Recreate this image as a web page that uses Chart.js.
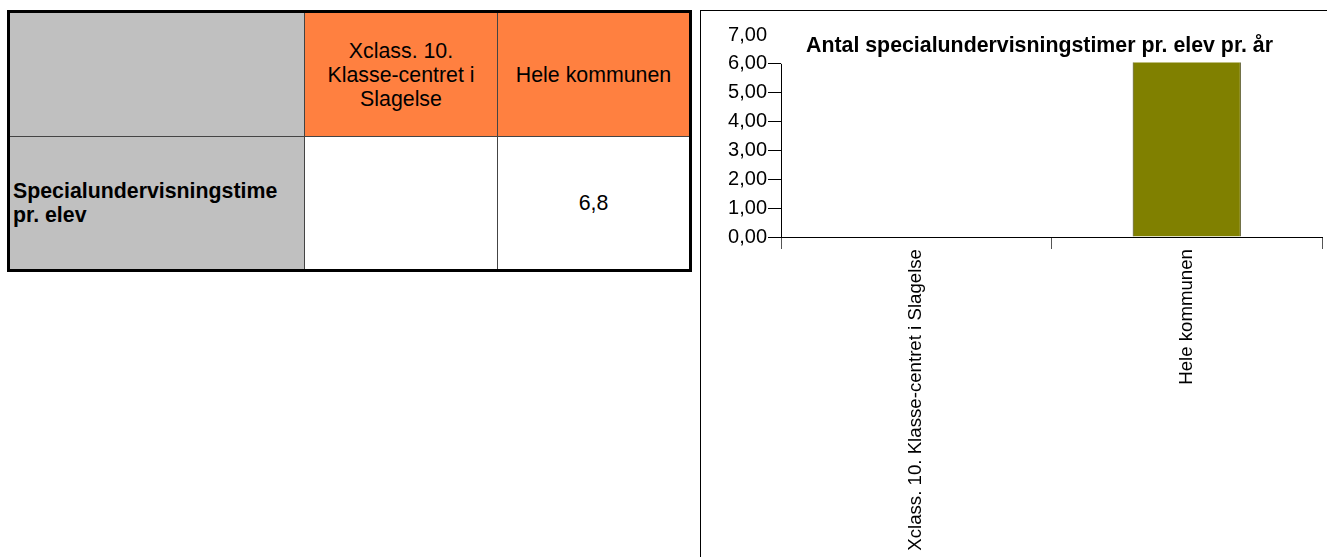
<!DOCTYPE html>
<html>
<head>
<meta charset="utf-8">
<script src="https://cdn.jsdelivr.net/npm/chart.js@4"></script>
<style>
  html, body { margin: 0; padding: 0; background: #fff; overflow: hidden; width: 1327px; height: 557px; }
  body { position: relative; font-family: "Liberation Sans", Arial, sans-serif; }
  .data-table {
    position: absolute; left: 7px; top: 10px; width: 682px;
    border-collapse: collapse; border: 3px solid #000;
    font-size: 21.33px; color: #000; table-layout: fixed;
  }
  .data-table td { border: 1px solid #444; padding: 0 8px; line-height: 24px; }
  .data-table .corner, .data-table .row-head { background: #c0c0c0; }
  .data-table .col-head { background: #ff8040; text-align: center; }
  .data-table .row-head { font-weight: bold; padding-left: 3px; }
  .data-table .cell { text-align: center; }
  .chart-frame {
    position: absolute; left: 700px; top: 10px; width: 700px; height: 600px;
    border-left: 1px solid #000; border-top: 1px solid #000;
  }
  .chart-box { position: absolute; left: 701px; top: 11px; width: 626px; height: 546px; }
  .chart-title {
    position: absolute; left: 806px; top: 33px;
    font-weight: bold; font-size: 21.33px; line-height: 24px; white-space: nowrap;
  }
</style>
</head>
<body>
<table class="data-table">
  <colgroup><col style="width:296px"><col style="width:193px"><col style="width:193px"></colgroup>
  <tr class="head-row" style="height:125px"></tr>
  <tr class="value-row" style="height:134px"></tr>
</table>
<div class="chart-frame"></div>
<div class="chart-box"><canvas id="myChart" width="626" height="546"></canvas></div>
<div class="chart-title"></div>
<script>
const categories = ["Xclass. 10. Klasse-centret i Slagelse", "Hele kommunen"];
const hoursPerPupil = [null, 6.8];
const rowLabel = "Specialundervisningstime pr. elev";
const chartTitle = "Antal specialundervisningstimer pr. elev pr. år";
const yTicks = [0, 1, 2, 3, 4, 5, 6, 7];

const plotTop = 6.05; // the picture cuts the plot off just above 6
const fmt = (v, d) => v.toFixed(d).replace(".", ",");

// table
const headRow = document.querySelector(".head-row");
const valueRow = document.querySelector(".value-row");
headRow.innerHTML = '<td class="corner"></td>' +
  categories.map((c) => '<td class="col-head">' + c + "</td>").join("");
valueRow.innerHTML = '<td class="row-head">' + rowLabel + "</td>" +
  hoursPerPupil.map((v) => '<td class="cell">' + (v === null ? "" : fmt(v, 1)) + "</td>").join("");

document.querySelector(".chart-title").textContent = chartTitle;

const cutPlot = {
  id: "cutPlot",
  beforeDatasetsDraw(chart) {
    const { ctx, chartArea, scales } = chart;
    const top = scales.y.getPixelForValue(plotTop);
    ctx.save();
    ctx.beginPath();
    ctx.rect(chartArea.left, top, chartArea.right - chartArea.left, chartArea.bottom - top + 1);
    ctx.clip();
  },
  afterDatasetsDraw(chart) {
    const { ctx, chartArea, scales } = chart;
    ctx.restore();
    // y axis line, only as far as the visible plot
    ctx.save();
    ctx.strokeStyle = "#000";
    ctx.lineWidth = 1;
    ctx.beginPath();
    ctx.moveTo(chartArea.left + 0.5, scales.y.getPixelForValue(0));
    ctx.lineTo(chartArea.left + 0.5, scales.y.getPixelForValue(6));
    ctx.stroke();
    ctx.restore();
  },
};

const ctx = document.getElementById("myChart");
new Chart(ctx, {
  type: "bar",
  data: {
    labels: categories,
    datasets: [
      {
        data: hoursPerPupil,
        backgroundColor: "#808000",
        borderColor: "#3a3a00",
        borderWidth: 1,
        barPercentage: 0.4,
        categoryPercentage: 1.0,
      },
    ],
  },
  options: {
    responsive: false,
    animation: false,
    devicePixelRatio: 1,
    layout: { padding: { left: 27, right: 5, top: 24, bottom: 0 } },
    plugins: { legend: { display: false }, tooltip: { enabled: false }, title: { display: false } },
    scales: {
      x: {
        afterFit: (s) => { s.height = 320; },
        grid: { offset: true, drawOnChartArea: false, tickLength: 12, color: "#555" },
        border: { display: true, color: "#000", width: 1 },
        ticks: {
          minRotation: 90, maxRotation: 90, autoSkip: false, padding: 0,
          color: "#000", font: { family: "Liberation Sans", size: 18.67 },
        },
      },
      y: {
        min: yTicks[0],
        max: yTicks[yTicks.length - 1],
        afterFit: (s) => { s.width = 53; },
        afterBuildTicks: (s) => { s.ticks = yTicks.map((v) => ({ value: v })); },
        grid: {
          drawOnChartArea: false, tickLength: 13,
          color: (c) => (c.tick && c.tick.value > plotTop ? "rgba(0,0,0,0)" : "#000"),
        },
        border: { display: false },
        ticks: {
          padding: 1, color: "#000",
          font: { family: "Liberation Sans", size: 20 },
          callback: (v) => fmt(v, 2),
        },
      },
    },
  },
  plugins: [cutPlot],
});
</script>
</body>
</html>
